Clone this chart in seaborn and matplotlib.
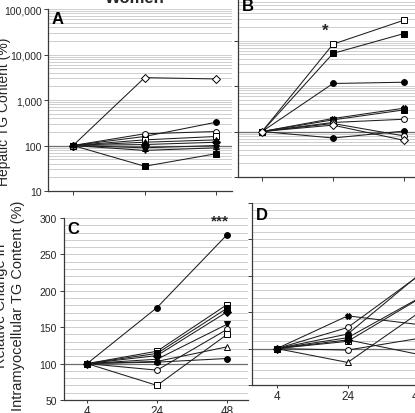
import numpy as np
import pandas as pd
import matplotlib
matplotlib.use("Agg")
import matplotlib.pyplot as plt
import seaborn as sns
from matplotlib.ticker import FixedLocator, FuncFormatter, LogLocator, MultipleLocator, NullFormatter

sns.set_theme(style="ticks")
plt.rcParams['font.family'] = ['Liberation Sans', 'DejaVu Sans']

# ---------------- data ----------------
times = ["4", "24", "48"]

# Panel A (hepatic, women) - relative TG content (%)
a_open_diamond = [100, 3100, 2900]
a_filled_circle = [100, 158, 325]
a_open_circle = [100, 181, 203]
a_filled_square = [100, 35, 66]
a_open_square = [100, 133, 158]
a_filled_triangle = [100, 118, 133]
a_filled_diamond = [100, 105, 118]
a_open_triangle = [100, 89, 100]
a_filled_vtri = [100, 78, 89]

# Panel B (hepatic, second group)
b_open_square = [100, 8300, 27900]
b_filled_square_hi = [100, 5200, 14200]
b_filled_circle_hi = [100, 1135, 1210]
b_filled_x = [100, 193, 325]
b_filled_square = [100, 180, 298]
b_open_circle = [100, 158, 186]
b_filled_circle = [100, 72, 102]
b_open_circle2 = [100, 150, 80]
b_open_diamond = [100, 138, 64]

# Panel C (intramyocellular, women)
c_filled_circle_hi = [100, 177, 277]
c_open_square = [100, 117, 181]
c_filled_square = [100, 114, 176]
c_filled_diamond = [100, 111, 171]
c_filled_vtri = [100, 106, 154]
c_open_circle = [100, 91, 147]
c_open_square2 = [100, 70, 140]
c_open_triangle = [100, 103, 123]
c_filled_circle = [100, 102, 107]

# Panel D (intramyocellular, second group)
d_open_circle = [100, 129, 200]
d_filled_circle = [100, 120, 201]
d_filled_x = [100, 145, 133]
d_filled_square = [100, 115, 169]
d_open_square = [100, 110, 168]
d_open_circle2 = [100, 98, 114]
d_open_triangle = [100, 81, 149]
d_filled_diamond = [100, 112, 92]

# (values, marker, filled)
panel_A = [(a_open_diamond, "D", False), (a_filled_circle, "o", True),
           (a_open_circle, "o", False), (a_filled_square, "s", True),
           (a_open_square, "s", False), (a_filled_triangle, "^", True),
           (a_filled_diamond, "D", True), (a_open_triangle, "^", False),
           (a_filled_vtri, "v", True)]
panel_B = [(b_open_square, "s", False), (b_filled_square_hi, "s", True),
           (b_filled_circle_hi, "o", True), (b_filled_x, "X", True),
           (b_filled_square, "s", True), (b_open_circle, "o", False),
           (b_filled_circle, "o", True), (b_open_circle2, "o", False),
           (b_open_diamond, "D", False)]
panel_C = [(c_filled_circle_hi, "o", True), (c_open_square, "s", False),
           (c_filled_square, "s", True), (c_filled_diamond, "D", True),
           (c_filled_vtri, "v", True), (c_open_circle, "o", False),
           (c_open_square2, "s", False), (c_open_triangle, "^", False),
           (c_filled_circle, "o", True)]
panel_D = [(d_open_circle, "o", False), (d_filled_circle, "o", True),
           (d_filled_x, "X", True), (d_filled_square, "s", True),
           (d_open_square, "s", False), (d_open_circle2, "o", False),
           (d_open_triangle, "^", False), (d_filled_diamond, "D", True)]

W, H = 415, 414
fig = plt.figure(figsize=(W / 100, H / 100), dpi=100)


def px_axes(left, top, width, height):
    return fig.add_axes([left / W, 1 - (top + height) / H, width / W, height / H])


axA = px_axes(48, 10, 184, 182)
axB = px_axes(238, -4, 190, 182)
axC = px_axes(64, 219, 184, 182)
axD = px_axes(252, 204, 190, 182)

xpos = np.arange(len(times))
EDGE = "#3a3a3a"


def draw(ax, series):
    for vals, mk, filled in series:
        df = pd.DataFrame({"t": xpos, "v": vals})
        sns.lineplot(data=df, x="t", y="v", ax=ax, color="#1e1e1e", lw=0.75,
                     marker=mk, markersize=4.2 if mk != "D" else 3.6,
                     markerfacecolor="black" if filled else "white",
                     markeredgecolor="black", markeredgewidth=0.7,
                     legend=False, zorder=3)
    ax.axhline(100, color="#6e6e6e", lw=0.9, zorder=2)
    ax.set_xlabel("")
    ax.set_ylabel("")
    for s in ["top", "right"]:
        ax.spines[s].set_visible(False)
    for s in ["left", "bottom"]:
        ax.spines[s].set_color(EDGE)
        ax.spines[s].set_linewidth(0.9)
    ax.set_xticks(xpos)
    ax.set_xticklabels(times)
    ax.tick_params(axis="both", which="major", direction="out", length=3,
                   width=0.7, color=EDGE, labelsize=7.5, pad=2)
    ax.tick_params(axis="y", which="minor", length=0)
    ax.set_axisbelow(True)


for ax, ser in [(axA, panel_A), (axB, panel_B)]:
    draw(ax, ser)
    ax.set_yscale("log")
    ax.set_ylim(10, 100000)
    ax.yaxis.set_major_locator(FixedLocator([10, 100, 1000, 10000, 100000]))
    ax.yaxis.set_minor_locator(LogLocator(base=10, subs=np.arange(2, 10)))
    ax.yaxis.set_minor_formatter(NullFormatter())
    ax.yaxis.set_major_formatter(FuncFormatter(lambda v, p: f"{int(round(v)):,}"))
    ax.grid(True, which="both", axis="y", color="#c6c6c6", lw=0.6)
    ax.tick_params(labelbottom=False)
    ax.tick_params(axis="y", pad=1.5)

for ax, ser in [(axC, panel_C), (axD, panel_D)]:
    draw(ax, ser)
    ax.set_ylim(50, 300)
    ax.yaxis.set_major_locator(MultipleLocator(50))
    ax.yaxis.set_minor_locator(MultipleLocator(10))
    ax.grid(True, which="both", axis="y", color="#c6c6c6", lw=0.6)
    ax.tick_params(axis="x", labelsize=8.5, length=2.5, pad=0.8)

axA.set_xlim(-0.35, 2.22)
axB.set_xlim(-0.34, 2.34)
axC.set_xlim(-0.33, 2.3)
axD.set_xlim(-0.35, 2.33)
axB.tick_params(labelleft=False)
axD.tick_params(labelleft=False)

for ax, lab, y in [(axA, "A", 0.99), (axB, "B", 0.985), (axC, "C", 0.985), (axD, "D", 0.98)]:
    ax.text(0.02, y, lab, transform=ax.transAxes, ha="left", va="top",
            fontsize=12, fontweight="bold", color="black", zorder=5)

# significance marks
axB.text(0.89, 17000, "*", ha="center", va="center", fontsize=12, fontweight="bold")
axC.text(1.9, 297, "***", ha="center", va="center", fontsize=11, fontweight="bold")

# axis titles (partially cut, as in the reference)
fig.text(-4 / W, 1 - 112 / H, "Relative Change in\nHepatic TG Content (%)",
         rotation=90, ha="center", va="center", fontsize=10, multialignment="center")
fig.text(9.5 / W, 1 - 306 / H, "Relative Change in\nIntramyocellular TG Content (%)",
         rotation=90, ha="center", va="center", fontsize=10.5, multialignment="center")
fig.text(105 / W, 1 - 3 / H, "Women", ha="left", va="baseline",
         fontsize=12, fontweight="bold")

fig.savefig("out.png", dpi=100)
